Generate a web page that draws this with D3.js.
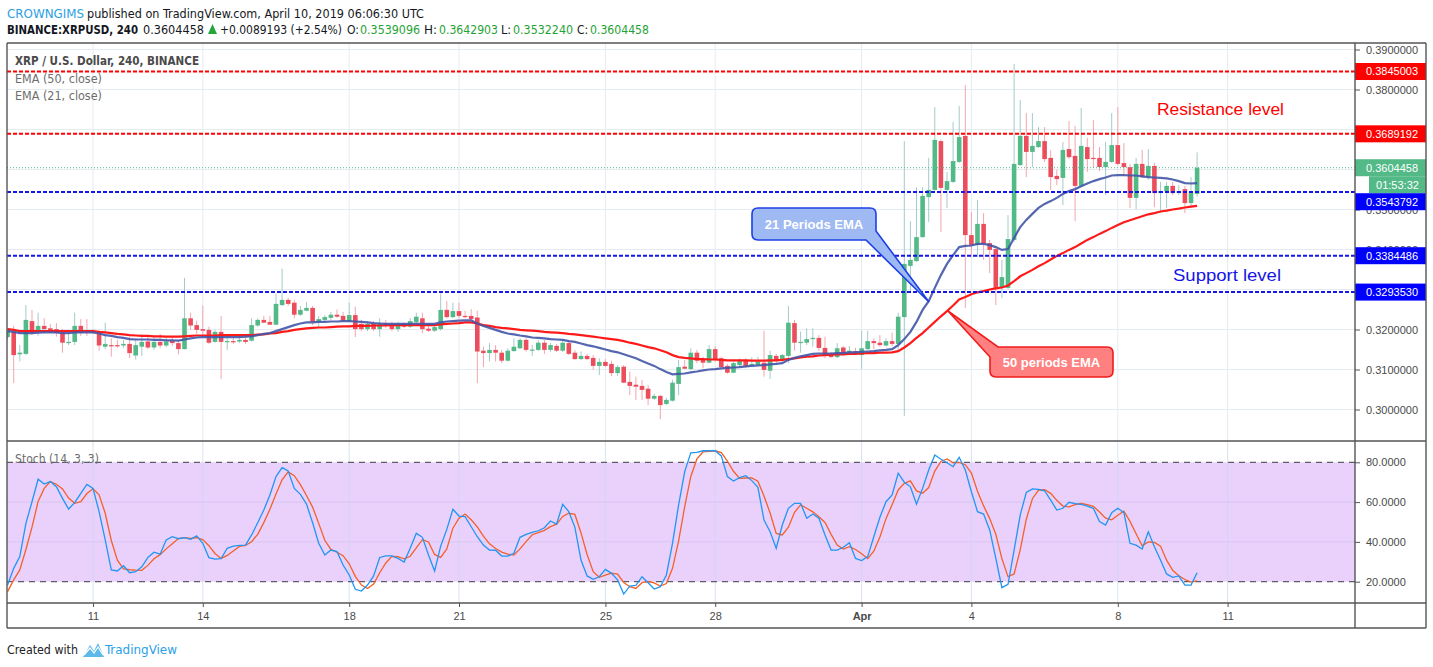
<!DOCTYPE html>
<html><head><meta charset="utf-8">
<script src="https://cdn.jsdelivr.net/npm/d3@7"></script>
<style>html,body{margin:0;padding:0;background:#fff;}svg{display:block;}</style>
</head><body>
<svg id="chart" width="1433" height="667"></svg>
<script>
// ---------------- DATA ----------------
const startTime = Date.UTC(2019, 2, 8, 16); // first 4h candle
const intervalHours = 4;
const open = [
0.3181,0.3195,0.3138,0.3139,0.3221,0.3194,0.3209,0.3203,0.3201,0.3192,
0.3167,0.3169,0.3209,0.3197,0.3196,0.3194,0.3157,0.3161,0.3161,0.3160,
0.3164,0.3135,0.3157,0.3170,0.3155,0.3169,0.3160,0.3171,0.3166,0.3151,
0.3228,0.3211,0.3201,0.3199,0.3169,0.3194,0.3170,0.3171,0.3170,0.3174,
0.3172,0.3210,0.3224,0.3219,0.3212,0.3261,0.3274,0.3267,0.3237,0.3247,
0.3254,0.3219,0.3224,0.3229,0.3237,0.3234,0.3221,0.3236,0.3214,0.3201,
0.3214,0.3201,0.3216,0.3214,0.3201,0.3211,0.3207,0.3219,0.3228,0.3202,
0.3197,0.3201,0.3249,0.3231,0.3246,0.3234,0.3234,0.3230,0.3147,0.3141,
0.3149,0.3142,0.3122,0.3146,0.3153,0.3174,0.3149,0.3149,0.3167,0.3149,
0.3159,0.3147,0.3166,0.3142,0.3126,0.3134,0.3129,0.3109,0.3119,0.3114,
0.3091,0.3107,0.3069,0.3062,0.3059,0.3052,0.3027,0.3034,0.3014,0.3022,
0.3064,0.3107,0.3101,0.3142,0.3126,0.3117,0.3151,0.3128,0.3109,0.3092,
0.3111,0.3122,0.3111,0.3111,0.3117,0.3097,0.3134,0.3124,0.3134,0.3216,
0.3167,0.3167,0.3176,0.3179,0.3154,0.3139,0.3131,0.3155,0.3142,0.3146,
0.3136,0.3151,0.3171,0.3167,0.3160,0.3171,0.3164,0.3231,0.3359,0.3371,
0.3431,0.3531,0.3549,0.3671,0.3549,0.3569,0.3619,0.3684,0.3436,0.3411,
0.3464,0.3416,0.3401,0.3304,0.3304,0.3424,0.3611,0.3684,0.3644,0.3656,
0.3671,0.3629,0.3584,0.3579,0.3651,0.3634,0.3559,0.3656,0.3629,0.3629,
0.3606,0.3619,0.3661,0.3616,0.3606,0.3529,0.3614,0.3581,0.3609,0.3541,
0.3546,0.3559,0.3541,0.3551,0.3516,0.3539096];
const high = [
0.3204,0.3209,0.3161,0.3261,0.3249,0.3242,0.3228,0.3214,0.3216,0.3201,
0.3192,0.3242,0.3226,0.3226,0.3201,0.3197,0.3217,0.3178,0.3174,0.3174,
0.3182,0.3178,0.3188,0.3186,0.3182,0.3189,0.3179,0.3184,0.3174,0.3329,
0.3242,0.3222,0.3260,0.3207,0.3199,0.3234,0.3178,0.3179,0.3184,0.3184,
0.3228,0.3228,0.3234,0.3234,0.3290,0.3352,0.3279,0.3274,0.3259,0.3269,
0.3259,0.3234,0.3236,0.3244,0.3250,0.3244,0.3267,0.3257,0.3224,0.3221,
0.3221,0.3228,0.3224,0.3219,0.3219,0.3217,0.3229,0.3242,0.3242,0.3211,
0.3214,0.3290,0.3271,0.3267,0.3267,0.3247,0.3251,0.3247,0.3157,0.3166,
0.3161,0.3149,0.3153,0.3178,0.3178,0.3178,0.3161,0.3174,0.3174,0.3166,
0.3164,0.3174,0.3171,0.3149,0.3145,0.3139,0.3136,0.3128,0.3126,0.3122,
0.3111,0.3111,0.3095,0.3082,0.3074,0.3061,0.3039,0.3036,0.3029,0.3074,
0.3124,0.3124,0.3153,0.3149,0.3132,0.3161,0.3159,0.3132,0.3114,0.3120,
0.3128,0.3128,0.3131,0.3132,0.3197,0.3147,0.3139,0.3139,0.3259,0.3224,
0.3195,0.3203,0.3203,0.3186,0.3182,0.3144,0.3166,0.3159,0.3159,0.3154,
0.3197,0.3197,0.3178,0.3186,0.3178,0.3192,0.3242,0.3671,0.3471,0.3556,
0.3556,0.3629,0.3756,0.3675,0.3594,0.3719,0.3759,0.3811,0.3494,0.3524,
0.3491,0.3424,0.3406,0.3374,0.3486,0.3864,0.3774,0.3741,0.3741,0.3706,
0.3706,0.3649,0.3599,0.3669,0.3721,0.3709,0.3754,0.3679,0.3724,0.3656,
0.3669,0.3741,0.3756,0.3666,0.3614,0.3629,0.3649,0.3651,0.3616,0.3569,
0.3569,0.3569,0.3561,0.3559,0.3581,0.3642903];
const low = [
0.3174,0.3066,0.3120,0.3136,0.3186,0.3184,0.3191,0.3191,0.3182,0.3142,
0.3161,0.3161,0.3184,0.3184,0.3189,0.3147,0.3151,0.3132,0.3154,0.3154,
0.3128,0.3125,0.3134,0.3151,0.3149,0.3154,0.3156,0.3159,0.3138,0.3150,
0.3199,0.3189,0.3186,0.3164,0.3167,0.3077,0.3149,0.3164,0.3166,0.3164,
0.3170,0.3207,0.3216,0.3211,0.3211,0.3259,0.3259,0.3228,0.3234,0.3246,
0.3211,0.3207,0.3219,0.3224,0.3229,0.3219,0.3220,0.3181,0.3196,0.3196,
0.3196,0.3182,0.3204,0.3196,0.3194,0.3204,0.3204,0.3216,0.3191,0.3194,
0.3194,0.3197,0.3228,0.3228,0.3228,0.3228,0.3224,0.3066,0.3106,0.3120,
0.3120,0.3116,0.3120,0.3145,0.3151,0.3145,0.3134,0.3146,0.3139,0.3144,
0.3144,0.3144,0.3136,0.3124,0.3124,0.3124,0.3099,0.3086,0.3106,0.3084,
0.3084,0.3066,0.3036,0.3024,0.3024,0.3011,0.3024,0.2976,0.3011,0.3020,
0.3036,0.3101,0.3099,0.3116,0.3103,0.3116,0.3119,0.3103,0.3089,0.3091,
0.3106,0.3103,0.3109,0.3109,0.3082,0.3076,0.3116,0.3116,0.3116,0.3147,
0.3142,0.3161,0.3157,0.3147,0.3128,0.3129,0.3128,0.3136,0.3141,0.3136,
0.3101,0.3149,0.3151,0.3157,0.3157,0.3159,0.3149,0.2984,0.3291,0.3369,
0.3429,0.3469,0.3547,0.3444,0.3504,0.3566,0.3616,0.3254,0.3381,0.3381,
0.3374,0.3341,0.3261,0.3279,0.3301,0.3419,0.3609,0.3581,0.3606,0.3654,
0.3619,0.3549,0.3561,0.3511,0.3626,0.3471,0.3556,0.3594,0.3604,0.3596,
0.3536,0.3616,0.3611,0.3586,0.3504,0.3501,0.3579,0.3574,0.3506,0.3491,
0.3504,0.3536,0.3536,0.3491,0.3504,0.3532240];
const close = [
0.3199,0.3136,0.3142,0.3224,0.3192,0.3209,0.3201,0.3197,0.3191,0.3167,
0.3169,0.3209,0.3192,0.3194,0.3192,0.3160,0.3164,0.3160,0.3160,0.3164,
0.3141,0.3161,0.3169,0.3155,0.3169,0.3160,0.3170,0.3166,0.3151,0.3228,
0.3210,0.3199,0.3197,0.3167,0.3194,0.3169,0.3171,0.3170,0.3174,0.3169,
0.3211,0.3224,0.3217,0.3212,0.3264,0.3274,0.3264,0.3237,0.3249,0.3254,
0.3219,0.3226,0.3231,0.3237,0.3232,0.3222,0.3236,0.3201,0.3201,0.3214,
0.3201,0.3216,0.3211,0.3201,0.3211,0.3207,0.3221,0.3232,0.3201,0.3197,
0.3206,0.3249,0.3231,0.3246,0.3234,0.3231,0.3226,0.3145,0.3141,0.3149,
0.3142,0.3122,0.3147,0.3157,0.3174,0.3149,0.3150,0.3167,0.3149,0.3161,
0.3147,0.3167,0.3139,0.3126,0.3134,0.3126,0.3109,0.3119,0.3109,0.3091,
0.3106,0.3067,0.3059,0.3057,0.3049,0.3027,0.3034,0.3011,0.3024,0.3067,
0.3106,0.3102,0.3142,0.3122,0.3117,0.3151,0.3124,0.3106,0.3092,0.3116,
0.3122,0.3109,0.3114,0.3120,0.3099,0.3136,0.3122,0.3136,0.3217,0.3167,
0.3169,0.3176,0.3179,0.3154,0.3134,0.3131,0.3153,0.3141,0.3147,0.3139,
0.3153,0.3171,0.3166,0.3161,0.3171,0.3164,0.3232,0.3364,0.3374,0.3431,
0.3534,0.3549,0.3674,0.3554,0.3571,0.3621,0.3681,0.3436,0.3411,0.3464,
0.3414,0.3399,0.3304,0.3331,0.3426,0.3614,0.3684,0.3644,0.3659,0.3671,
0.3626,0.3581,0.3576,0.3649,0.3631,0.3559,0.3659,0.3626,0.3628,0.3606,
0.3619,0.3661,0.3614,0.3606,0.3529,0.3614,0.3581,0.3609,0.3541,0.3546,
0.3559,0.3541,0.3546,0.3516,0.3541,0.3604458];
const ema21 = [
0.3196,0.3194,0.3191,0.3191,0.3191,0.3192,0.3193,0.3193,0.3193,0.3191,
0.3191,0.3193,0.3193,0.3193,0.3193,0.3190,0.3186,0.3184,0.3181,0.3179,
0.3176,0.3175,0.3175,0.3175,0.3174,0.3174,0.3173,0.3173,0.3172,0.3175,
0.3178,0.3180,0.3181,0.3181,0.3181,0.3181,0.3181,0.3181,0.3181,0.3182,
0.3183,0.3186,0.3189,0.3191,0.3196,0.3201,0.3206,0.3211,0.3215,0.3218,
0.3218,0.3219,0.3219,0.3220,0.3220,0.3221,0.3221,0.3220,0.3219,0.3218,
0.3216,0.3215,0.3214,0.3214,0.3214,0.3214,0.3214,0.3215,0.3214,0.3214,
0.3214,0.3218,0.3220,0.3221,0.3222,0.3223,0.3223,0.3215,0.3209,0.3204,
0.3199,0.3194,0.3190,0.3188,0.3185,0.3183,0.3180,0.3179,0.3178,0.3176,
0.3175,0.3174,0.3171,0.3169,0.3165,0.3161,0.3158,0.3154,0.3150,0.3146,
0.3143,0.3138,0.3133,0.3128,0.3121,0.3115,0.3109,0.3101,0.3094,0.3088,
0.3089,0.3090,0.3093,0.3095,0.3098,0.3100,0.3101,0.3103,0.3104,0.3105,
0.3106,0.3108,0.3109,0.3110,0.3111,0.3113,0.3114,0.3116,0.3124,0.3129,
0.3133,0.3136,0.3139,0.3140,0.3140,0.3140,0.3141,0.3141,0.3143,0.3143,
0.3144,0.3145,0.3146,0.3148,0.3149,0.3151,0.3161,0.3176,0.3194,0.3219,
0.3249,0.3271,0.3304,0.3336,0.3364,0.3386,0.3406,0.3409,0.3410,0.3414,
0.3414,0.3411,0.3406,0.3399,0.3401,0.3429,0.3456,0.3474,0.3489,0.3504,
0.3514,0.3521,0.3529,0.3539,0.3546,0.3551,0.3558,0.3565,0.3571,0.3576,
0.3580,0.3585,0.3586,0.3586,0.3585,0.3585,0.3583,0.3581,0.3580,0.3579,
0.3578,0.3575,0.3571,0.3566,0.3565,0.3566];
const ema50 = [
0.3201,0.3199,0.3196,0.3196,0.3196,0.3196,0.3196,0.3196,0.3196,0.3196,
0.3196,0.3196,0.3196,0.3196,0.3196,0.3194,0.3193,0.3191,0.3189,0.3188,
0.3186,0.3185,0.3184,0.3184,0.3183,0.3183,0.3182,0.3182,0.3182,0.3183,
0.3184,0.3185,0.3185,0.3185,0.3185,0.3186,0.3186,0.3186,0.3186,0.3186,
0.3186,0.3187,0.3188,0.3190,0.3191,0.3194,0.3196,0.3199,0.3201,0.3203,
0.3204,0.3205,0.3205,0.3206,0.3207,0.3208,0.3208,0.3209,0.3209,0.3209,
0.3210,0.3210,0.3210,0.3211,0.3211,0.3211,0.3211,0.3211,0.3211,0.3211,
0.3211,0.3213,0.3214,0.3215,0.3216,0.3218,0.3218,0.3215,0.3211,0.3209,
0.3206,0.3204,0.3203,0.3201,0.3199,0.3198,0.3197,0.3196,0.3194,0.3193,
0.3192,0.3191,0.3189,0.3188,0.3186,0.3184,0.3182,0.3180,0.3178,0.3176,
0.3174,0.3171,0.3167,0.3164,0.3160,0.3156,0.3153,0.3148,0.3143,0.3136,
0.3131,0.3129,0.3128,0.3126,0.3126,0.3125,0.3125,0.3124,0.3123,0.3123,
0.3123,0.3123,0.3122,0.3122,0.3122,0.3123,0.3123,0.3124,0.3126,0.3128,
0.3130,0.3132,0.3133,0.3135,0.3136,0.3137,0.3138,0.3138,0.3139,0.3139,
0.3140,0.3141,0.3141,0.3142,0.3142,0.3143,0.3146,0.3155,0.3166,0.3179,
0.3191,0.3205,0.3219,0.3233,0.3246,0.3260,0.3275,0.3281,0.3288,0.3293,
0.3296,0.3300,0.3303,0.3305,0.3310,0.3321,0.3333,0.3341,0.3349,0.3358,
0.3366,0.3375,0.3384,0.3391,0.3399,0.3406,0.3415,0.3424,0.3431,0.3439,
0.3446,0.3454,0.3461,0.3468,0.3473,0.3478,0.3483,0.3488,0.3491,0.3495,
0.3497,0.3500,0.3502,0.3505,0.3507,0.3509];
const stochK = [
18.3,26.7,32.6,49.3,60.2,71.5,69.1,70.3,67.7,61.9,
56.5,59.7,64.4,68.9,66.9,55.2,41,25.9,25.4,28,
24.5,25,27.5,32.2,34.8,33.8,41,42.6,41.6,42.1,
41.3,43,39.3,32.1,31.3,31.6,36.8,37.9,38.3,38.4,
43.5,49.6,56,63.6,72.8,77.3,75.6,66.9,63.9,59,
49.6,39.3,33.4,35.9,35.1,28.4,23.4,16.2,15.3,18.3,
22.9,32.2,33,33,31.7,29.9,36.8,44.3,42.3,33.4,
25.4,37.9,46.3,56.4,53,52.7,47.6,42.6,38.4,35.9,
35.8,32.9,32.9,34.3,42.3,43.8,44.8,45.6,47.1,50.5,
49,58.9,55.2,47.3,30.9,22.9,21.2,22.5,26.2,24.2,
20.9,13.8,17.8,18.2,22.5,19.5,16.3,17.5,23.4,39.3,
58.5,75.3,84.8,85,85.8,85.8,85.8,83.2,72.8,70.6,
72.3,73.3,70.8,67.4,51,45.1,36.8,48.5,56.9,59.4,
59.4,51.9,54,51.9,43.5,35.9,35.9,37.3,39.6,31.7,
30.6,32.6,42.6,52.4,60.2,63.6,74.5,70,67.7,59,
66.9,76.1,83.7,81.5,79.8,77.8,82.5,76.1,65.2,55.2,
54,46,31.7,17,18.7,35.9,53.5,64.9,66.6,66.4,
65.7,61,56,56.9,59.9,59.2,58.9,58,56.9,50.2,
48.5,54.7,56.9,54.7,39.3,38.4,36.4,45.1,37.6,30.9,
23.9,22.2,22.9,18.3,18.3,24.5];
const stochD = [
15,20.9,25.9,36.2,47.4,60.3,66.9,70.3,69,66.6,
62,59.4,60.2,64.3,66.7,63.7,54.4,40.7,30.8,26.4,
26,25.8,25.7,28.2,31.5,33.6,36.5,39.1,41.7,42.1,
41.7,42.1,41.2,38.1,34.2,31.7,33.2,35.4,37.7,38.2,
40.1,43.8,49.7,56.4,64.1,71.2,75.2,73.3,68.8,63.3,
57.5,49.3,40.8,36.2,34.8,33.1,29,22.7,18.3,16.6,
18.8,24.5,29.4,32.7,32.6,31.5,32.8,37,41.1,40,
33.7,32.2,36.5,46.9,51.9,54,51.1,47.6,42.9,39,
36.7,34.9,33.9,33.4,36.5,40.1,43.6,44.7,45.8,47.7,
48.9,52.8,54.4,53.8,44.5,33.7,25,22.2,23.3,24.3,
23.8,19.6,17.5,16.6,19.5,20.1,19.4,17.8,19.1,26.7,
40.4,57.7,72.9,81.7,85.2,85.5,85.8,84.9,80.6,75.5,
71.9,72.1,72.1,70.5,63.1,54.5,44.3,43.5,47.4,54.9,
58.6,56.9,55.1,52.6,49.8,43.8,38.4,36.4,37.6,36.2,
34,31.6,35.3,42.5,51.7,58.7,66.1,69.4,70.7,65.6,
64.5,67.3,75.6,80.4,81.7,79.7,80,78.8,74.6,65.5,
58.1,51.7,43.9,31.6,22.5,23.9,36,51.4,61.7,66,
66.2,64.4,60.9,58,57.6,58.7,59.3,58.7,57.9,55,
51.9,51.1,53.4,55.4,50.3,44.1,38,40,39.7,37.9,
30.8,25.7,23,21.1,19.8,20.4];
const priceTicks = [0.30,0.31,0.32,0.33,0.34,0.35,0.36,0.37,0.38,0.39];
const stochTicks = [20,40,60,80];
const dayTickDates = ["2019-03-11","2019-03-14","2019-03-18","2019-03-21","2019-03-25","2019-03-28","2019-04-01","2019-04-04","2019-04-08","2019-04-11"];
const dayTickLabels = ["11","14","18","21","25","28","Apr","4","8","11"];
const resistanceLevels = [0.3845003, 0.3689192];
const supportLevels = [0.3543792, 0.3384486, 0.3293530];
const lastPrice = 0.3604458;
const countdownText = "01:53:32";

// ---------------- LAYOUT ----------------
const L = 7, R = 1355, RE = 1426, T = 43, MB = 441, SB = 603, BB = 628;
const FONT = "'Liberation Sans', Arial, sans-serif";
const NARROW = "'Liberation Sans Narrow','DejaVu Sans Condensed','Liberation Sans',Arial,sans-serif";
const UP = "#53b987", DOWN = "#eb4d5c", UPW = "#a3cbc9", DOWNW = "#f3a5ad";

const times = open.map((d, i) => new Date(startTime + i * intervalHours * 3600e3));
const candleStep = 6.1;
const x = d3.scaleUtc().domain([times[0], times[times.length - 1]])
  .range([7.6, 7.6 + (times.length - 1) * candleStep]);
const y = d3.scaleLinear().domain([0.30, 0.39]).range([409.5, 49.5]);
const ys = d3.scaleLinear().domain([20, 80]).range([581.7, 462.3]);
const dayDates = dayTickDates.map(s => new Date(s + "T00:00:00Z"));

const svg = d3.select("#chart");
svg.append("rect").attr("width", 1433).attr("height", 667).attr("fill", "#fff");
const defs = svg.append("defs");
defs.append("clipPath").attr("id", "clipMain").append("rect")
  .attr("x", L).attr("y", T).attr("width", R - L).attr("height", MB - T);
defs.append("clipPath").attr("id", "clipStoch").append("rect")
  .attr("x", L).attr("y", MB).attr("width", R - L).attr("height", SB - MB);

// ---------- main grid ----------
const gGrid = svg.append("g");
gGrid.selectAll("line.hg").data(priceTicks).join("line")
  .attr("x1", L).attr("x2", R).attr("y1", d => y(d)).attr("y2", d => y(d))
  .attr("stroke", "#e4ecf1").attr("stroke-width", 1);
gGrid.selectAll("line.vg").data(dayDates).join("line")
  .attr("x1", d => x(d)).attr("x2", d => x(d)).attr("y1", T).attr("y2", MB)
  .attr("stroke", "#e4ecf1").attr("stroke-width", 1);

// ---------- stoch background ----------
const gS = svg.append("g").attr("clip-path", "url(#clipStoch)");
gS.append("rect").attr("x", L).attr("width", R - L)
  .attr("y", ys(80)).attr("height", ys(20) - ys(80)).attr("fill", "#e9d1fc");
gS.selectAll("line.sg").data([40, 60]).join("line")
  .attr("x1", L).attr("x2", R).attr("y1", d => ys(d)).attr("y2", d => ys(d))
  .attr("stroke", "#d7c6f0").attr("stroke-width", 1);
gS.selectAll("line.svg").data(dayDates).join("line")
  .attr("x1", d => x(d)).attr("x2", d => x(d)).attr("y1", MB).attr("y2", SB)
  .attr("stroke", "rgba(200,215,235,0.7)").attr("stroke-width", 1);
gS.selectAll("line.band").data([20, 80]).join("line")
  .attr("x1", L).attr("x2", R).attr("y1", d => ys(d)).attr("y2", d => ys(d))
  .attr("stroke", "#5d5d66").attr("stroke-width", 1.2).attr("stroke-dasharray", "6,5");

// ---------- candles ----------
const candles = open.map((o, i) => ({ t: times[i], o, h: high[i], l: low[i], c: close[i] }));
const gC = svg.append("g").attr("clip-path", "url(#clipMain)");
gC.selectAll("line.wick").data(candles).join("line")
  .attr("x1", d => x(d.t)).attr("x2", d => x(d.t))
  .attr("y1", d => y(d.h)).attr("y2", d => y(d.l))
  .attr("stroke", d => d.c >= d.o ? UPW : DOWNW).attr("stroke-width", 1);
gC.selectAll("rect.body").data(candles).join("rect")
  .attr("x", d => x(d.t) - 2.3).attr("width", 4.6)
  .attr("y", d => y(Math.max(d.o, d.c)))
  .attr("height", d => Math.max(1.2, Math.abs(y(d.o) - y(d.c))))
  .attr("fill", d => d.c >= d.o ? UP : DOWN);

// ---------- EMAs ----------
const lineMain = d3.line().x((d, i) => x(times[i])).y(d => y(d)).curve(d3.curveLinear);
gC.append("path").attr("d", lineMain(ema50)).attr("fill", "none")
  .attr("stroke", "#ff1a1a").attr("stroke-width", 2.2);
gC.append("path").attr("d", lineMain(ema21)).attr("fill", "none")
  .attr("stroke", "#4257a8").attr("stroke-width", 2.2).attr("stroke-opacity", 0.9);

// ---------- levels ----------
const gLev = svg.append("g").attr("clip-path", "url(#clipMain)");
gLev.selectAll("line.res").data(resistanceLevels).join("line")
  .attr("x1", L).attr("x2", R).attr("y1", d => y(d)).attr("y2", d => y(d))
  .attr("stroke", "#ff0000").attr("stroke-width", 2).attr("stroke-dasharray", "4,2");
gLev.selectAll("line.sup").data(supportLevels).join("line")
  .attr("x1", L).attr("x2", R).attr("y1", d => y(d)).attr("y2", d => y(d))
  .attr("stroke", "#1515e8").attr("stroke-width", 2).attr("stroke-dasharray", "4,2");
gLev.append("line").attr("x1", L).attr("x2", R).attr("y1", y(lastPrice)).attr("y2", y(lastPrice))
  .attr("stroke", UP).attr("stroke-width", 1).attr("stroke-dasharray", "1,2");

// ---------- callouts ----------
function callout21() {
  const bx = 752, by = 208, bw = 124, bh = 32, r = 6;
  const tipX = 929, tipY = 302;
  const p = `M${bx + r},${by} L${bx + bw - r},${by} Q${bx + bw},${by} ${bx + bw},${by + r}
    L${bx + bw},${by + 23} L${tipX},${tipY} L${bx + bw - 10},${by + bh}
    L${bx + r},${by + bh} Q${bx},${by + bh} ${bx},${by + bh - r} L${bx},${by + r} Q${bx},${by} ${bx + r},${by} Z`;
  svg.append("path").attr("d", p).attr("fill", "#9fbaf3").attr("stroke", "#1d40e6").attr("stroke-width", 1.6);
  svg.append("text").attr("x", bx + bw / 2).attr("y", by + bh / 2 + 4.5).attr("text-anchor", "middle")
    .attr("font-family", FONT).attr("font-weight", "bold").attr("font-size", 13).attr("fill", "#fff")
    .text("21 Periods EMA");
}
function callout50() {
  const bx = 990, by = 347, bw = 123, bh = 30, r = 6;
  const tipX = 948, tipY = 311;
  const p = `M${bx + 8},${by} L${bx + bw - r},${by} Q${bx + bw},${by} ${bx + bw},${by + r}
    L${bx + bw},${by + bh - r} Q${bx + bw},${by + bh} ${bx + bw - r},${by + bh}
    L${bx + r},${by + bh} Q${bx},${by + bh} ${bx},${by + bh - r} L${bx},${by + 10} L${tipX},${tipY} Z`;
  svg.append("path").attr("d", p).attr("fill", "#ff8080").attr("stroke", "#f01c1c").attr("stroke-width", 1.6);
  svg.append("text").attr("x", bx + bw / 2).attr("y", by + bh / 2 + 4.5).attr("text-anchor", "middle")
    .attr("font-family", FONT).attr("font-weight", "bold").attr("font-size", 13).attr("fill", "#fff")
    .text("50 periods EMA");
}
callout21();
callout50();

svg.append("text").attr("x", 1157).attr("y", 115).attr("font-family", FONT).attr("font-size", 17)
  .attr("fill", "#ff0000").attr("textLength", 127).attr("lengthAdjust", "spacingAndGlyphs").text("Resistance level");
svg.append("text").attr("x", 1173).attr("y", 281).attr("font-family", FONT).attr("font-size", 17)
  .attr("fill", "#1515e8").attr("textLength", 108).attr("lengthAdjust", "spacingAndGlyphs").text("Support level");

// ---------- stoch lines ----------
const lineS = d3.line().x((d, i) => x(times[i])).y(d => ys(d));
gS.append("path").attr("d", lineS(stochD)).attr("fill", "none").attr("stroke", "#f4602a").attr("stroke-width", 1.3);
gS.append("path").attr("d", lineS(stochK)).attr("fill", "none").attr("stroke", "#2196f3").attr("stroke-width", 1.3);

// ---------- label boxes layout (computed before axis so covered tick labels can be dropped) ----------
const fmt7 = d3.format(".7f");
const boxes = [];
resistanceLevels.forEach(v => boxes.push({ cy: y(v), label: fmt7(v), fill: "#ff0000", x0: R, mid: false }));
boxes.push({ cy: y(lastPrice), label: fmt7(lastPrice), fill: UP, x0: R, mid: false });
const cdY = y(lastPrice) + 17;
boxes.push({ cy: cdY, label: countdownText, fill: UP, x0: 1369, mid: true });
supportLevels.forEach(v => boxes.push({ cy: Math.max(y(v), cdY + 17), label: fmt7(v), fill: "#0000ff", x0: R, mid: false }));
const fullyCovered = v => boxes.some(b => b.x0 === R && Math.abs(b.cy - y(v)) < 5);

// ---------- axes ----------
function styleAxis(g) {
  g.select(".domain").remove();
  g.selectAll(".tick line").attr("stroke", "#555");
  g.selectAll(".tick text").attr("font-family", FONT).attr("font-size", 11).attr("fill", "#4a4a4a");
}
const pAxis = d3.axisRight(y).tickValues(priceTicks)
  .tickFormat(d => fullyCovered(d) ? "" : d3.format(".7f")(d)).tickSize(5).tickPadding(6);
svg.append("g").attr("transform", `translate(${R},0)`).call(pAxis).call(styleAxis);
const sAxis = d3.axisRight(ys).tickValues(stochTicks).tickFormat(d3.format(".4f")).tickSize(5).tickPadding(6);
svg.append("g").attr("transform", `translate(${R},0)`).call(sAxis).call(styleAxis);
const tAxis = d3.axisBottom(x).tickValues(dayDates).tickFormat((d, i) => dayTickLabels[i]).tickSize(4).tickPadding(5);
const gT = svg.append("g").attr("transform", `translate(0,${SB})`).call(tAxis).call(styleAxis);
gT.selectAll(".tick text").attr("font-weight", (d, i) => dayTickLabels[i] === "Apr" ? "bold" : "normal");

// ---------- price label boxes ----------
boxes.forEach(b => {
  const g = svg.append("g");
  g.append("rect").attr("x", b.x0).attr("y", b.cy - 8.5).attr("width", RE - b.x0).attr("height", 17).attr("fill", b.fill);
  g.append("text").attr("x", b.mid ? (b.x0 + RE) / 2 : R + 11).attr("y", b.cy + 4)
    .attr("text-anchor", b.mid ? "middle" : "start")
    .attr("font-family", FONT).attr("font-size", 11).attr("fill", "#fff").text(b.label);
});

// ---------- frame ----------
const frame = [[L, T, RE, T], [L, BB, RE, BB], [L, T, L, BB], [RE, T, RE, BB], [R, T, R, BB], [L, MB, RE, MB], [L, SB, RE, SB]];
svg.append("g").selectAll("line").data(frame).join("line")
  .attr("x1", d => d[0]).attr("y1", d => d[1]).attr("x2", d => d[2]).attr("y2", d => d[3])
  .attr("stroke", "#555").attr("stroke-width", 1.4);

// ---------- legends ----------
function txt(xp, yp, s, opts = {}) {
  const t = svg.append("text").attr("x", xp).attr("y", yp).attr("font-family", opts.family || NARROW)
    .attr("font-size", opts.size || 13).attr("fill", opts.fill || "#131722").text(s);
  if (opts.bold) t.attr("font-weight", "bold");
  if (opts.w) t.attr("textLength", opts.w).attr("lengthAdjust", "spacingAndGlyphs");
  return t;
}
txt(15, 65, "XRP / U.S. Dollar, 240, BINANCE", { size: 13, fill: "#4a4a4a", w: 184, bold: true });
txt(15, 82.5, "EMA (50, close)", { size: 13, fill: "#6d6d6d", w: 87 });
txt(15, 100, "EMA (21, close)", { size: 13, fill: "#6d6d6d", w: 87 });
txt(15, 462.5, "Stoch (14, 3, 3)", { size: 13, fill: "#6d6d6d", w: 84 });

// ---------- header ----------
txt(7, 18, "CROWNGIMS", { fill: "#2aa0e6", w: 77 });
txt(87, 18, "published on TradingView.com, April 10, 2019 06:06:30 UTC", { w: 337 });
txt(7, 34, "BINANCE:XRPUSD, 240", { bold: true, w: 131 });
txt(143, 34, "0.3604458", { w: 61 });
svg.append("path").attr("d", "M208,34 L217,34 L212.5,24 Z").attr("fill", "#22a53a");
txt(220, 34, "+0.0089193 (+2.54%)", { w: 122 });
const GREEN = "#1fa336";
txt(347, 34, "O:", { w: 12 });
txt(360, 34, "0.3539096", { fill: GREEN, w: 60 });
txt(424, 34, "H:", { w: 13 });
txt(439, 34, "0.3642903", { fill: GREEN, w: 59 });
txt(501, 34, "L:", { w: 10 });
txt(513, 34, "0.3532240", { fill: GREEN, w: 60 });
txt(577, 34, "C:", { w: 11 });
txt(590, 34, "0.3604458", { fill: GREEN, w: 59 });

// ---------- footer ----------
txt(7, 654, "Created with", { fill: "#222", w: 71 });
svg.append("path").attr("d", "M83,657 L90,645 L94,651 L98,643 L104,657 Z").attr("fill", "#5db9e8");
svg.append("path").attr("d", "M84,655 L90,648 L94,653 L98,647 L103,655").attr("fill", "none").attr("stroke", "#fff").attr("stroke-width", 1.2);
txt(105, 654, "TradingView", { fill: "#2aa0e6", w: 72 });
</script>
</body></html>
